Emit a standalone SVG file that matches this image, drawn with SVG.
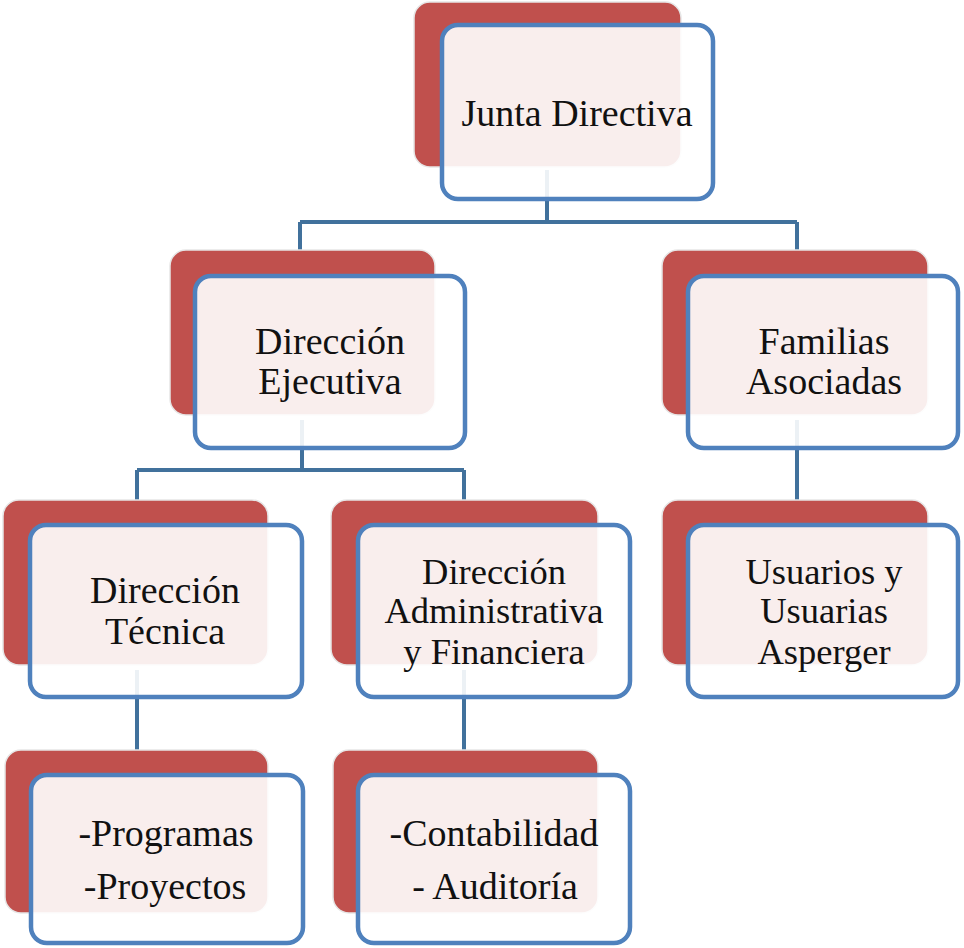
<svg xmlns="http://www.w3.org/2000/svg" width="964" height="948" viewBox="0 0 964 948">
<style>
.back{fill:#c0504d;stroke:#e6e6e6;stroke-width:1.5}
.front{fill:#ffffff;fill-opacity:0.9;stroke:#4f81bd;stroke-width:4.5}
.lbl{font-family:"Liberation Serif","Times New Roman",serif;font-size:38px;fill:#111;text-anchor:middle}
.lbl3{font-size:36.5px}
.conn{fill:none;stroke:#41719c;stroke-width:4}
</style>
<rect width="964" height="948" fill="#fff"/>
<g id="connectors">
<path class="conn" d="M547 170V222M300 222H797M300 222V252M797 222V252"/>
<path class="conn" d="M302 420V470M137 470H464M137 470V502M464 470V502"/>
<path class="conn" d="M797 420V502"/>
<path class="conn" d="M137 670V752"/>
<path class="conn" d="M464 670V752"/>
</g>
<g id="n-junta">
<rect class="back" x="414" y="2" width="267" height="165" rx="16"/>
<rect class="front" x="442" y="25" width="271" height="174" rx="16"/>
<text class="lbl" x="577" y="126">Junta Directiva</text>
</g>
<g id="n-ejecutiva">
<rect class="back" x="170" y="250" width="265" height="165" rx="16"/>
<rect class="front" x="195" y="276" width="270" height="172" rx="16"/>
<text class="lbl" x="330" y="354">Dirección</text>
<text class="lbl" x="330" y="394">Ejecutiva</text>
</g>
<g id="n-familias">
<rect class="back" x="662" y="250" width="266" height="165" rx="16"/>
<rect class="front" x="688" y="276" width="270" height="172" rx="16"/>
<text class="lbl" x="824" y="354">Familias</text>
<text class="lbl" x="824" y="394">Asociadas</text>
</g>
<g id="n-tecnica">
<rect class="back" x="3" y="500" width="265" height="165" rx="16"/>
<rect class="front" x="30" y="525" width="272" height="172" rx="16"/>
<text class="lbl" x="165" y="603">Dirección</text>
<text class="lbl" x="165" y="644">Técnica</text>
</g>
<g id="n-admin">
<rect class="back" x="331" y="500" width="267" height="165" rx="16"/>
<rect class="front" x="358" y="525" width="272" height="172" rx="16"/>
<text class="lbl lbl3" x="494" y="584">Dirección</text>
<text class="lbl lbl3" x="494" y="623">Administrativa</text>
<text class="lbl lbl3" x="494" y="664">y Financiera</text>
</g>
<g id="n-usuarios">
<rect class="back" x="662" y="500" width="266" height="165" rx="16"/>
<rect class="front" x="688" y="525" width="270" height="172" rx="16"/>
<text class="lbl lbl3" x="824" y="584">Usuarios y</text>
<text class="lbl lbl3" x="824" y="623">Usuarias</text>
<text class="lbl lbl3" x="824" y="664">Asperger</text>
</g>
<g id="n-programas">
<rect class="back" x="5" y="750" width="263" height="163" rx="16"/>
<rect class="front" x="31" y="775" width="272" height="168" rx="16"/>
<text class="lbl" x="166" y="846">-Programas</text>
<text class="lbl" x="165" y="899">-Proyectos</text>
</g>
<g id="n-contabilidad">
<rect class="back" x="333" y="750" width="265" height="163" rx="16"/>
<rect class="front" x="358" y="775" width="272" height="168" rx="16"/>
<text class="lbl" x="494" y="846">-Contabilidad</text>
<text class="lbl" x="495" y="899">- Auditoría</text>
</g>
</svg>
